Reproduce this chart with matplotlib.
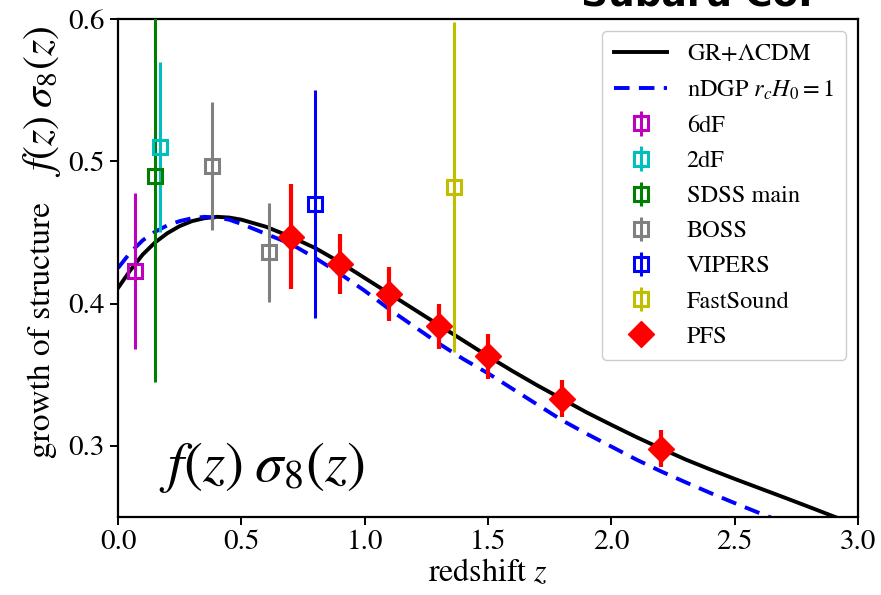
import numpy as np
import matplotlib
matplotlib.use("Agg")
import matplotlib.pyplot as plt

plt.rcParams["font.family"] = ["STIXGeneral", "DejaVu Serif"]
plt.rcParams["mathtext.fontset"] = "stix"

# ---- theory curves ----
z_gr = [0.0, 0.05, 0.1, 0.15, 0.2, 0.25, 0.3, 0.35, 0.4, 0.45, 0.5, 0.6, 0.7, 0.8, 0.9,
        1.0, 1.1, 1.2, 1.3, 1.4, 1.5, 1.6, 1.7, 1.8, 1.9, 2.0, 2.1, 2.2, 2.3, 2.4, 2.5,
        2.6, 2.7, 2.8, 2.9, 3.0]
fs8_gr = [0.411, 0.4235, 0.4345, 0.443, 0.4495, 0.4545, 0.458, 0.460, 0.461, 0.4605,
          0.459, 0.454, 0.447, 0.439, 0.429, 0.418, 0.407, 0.396, 0.385, 0.374, 0.363,
          0.3525, 0.3425, 0.333, 0.3235, 0.3148, 0.3063, 0.2983, 0.2905, 0.2835, 0.2768,
          0.2703, 0.2638, 0.2572, 0.2505, 0.244]

z_dgp = [0.0, 0.05, 0.1, 0.15, 0.2, 0.25, 0.3, 0.35, 0.4, 0.45, 0.5, 0.6, 0.7, 0.8, 0.9,
         1.0, 1.1, 1.2, 1.3, 1.4, 1.5, 1.6, 1.7, 1.8, 1.9, 2.0, 2.1, 2.2, 2.3, 2.4, 2.5,
         2.6, 2.7]
fs8_dgp = [0.425, 0.436, 0.4445, 0.4505, 0.455, 0.458, 0.460, 0.461, 0.4605, 0.459,
           0.456, 0.449, 0.442, 0.432, 0.421, 0.409, 0.396, 0.384, 0.372, 0.361, 0.351,
           0.340, 0.329, 0.318, 0.3085, 0.2995, 0.2905, 0.2822, 0.2745, 0.267, 0.2598,
           0.2528, 0.246]

# ---- measurements ----
surveys = ["6dF", "2dF", "SDSS main", "BOSS", "VIPERS", "FastSound"]
colors  = ["m", "c", "g", "gray", "b", "y"]
sv_z    = [[0.067], [0.17], [0.15], [0.38, 0.61], [0.80], [1.36]]
sv_val  = [[0.423], [0.510], [0.490], [0.497, 0.436], [0.470], [0.482]]
sv_err  = [[0.055], [0.060], [0.145], [0.045, 0.035], [0.080], [0.116]]

pfs_z   = [0.7, 0.9, 1.1, 1.3, 1.5, 1.8, 2.2]
pfs_val = [0.447, 0.428, 0.407, 0.384, 0.363, 0.333, 0.298]
pfs_err = [0.037, 0.021, 0.019, 0.016, 0.016, 0.013, 0.013]

fig = plt.figure(figsize=(8.81, 5.95), dpi=100)
ax = fig.add_axes([0.134, 0.131, 0.840, 0.837])

handles = []
h, = ax.plot(z_gr, fs8_gr, "k-", lw=2.8, label=r"GR+$\Lambda$CDM", zorder=2)
handles.append(h)
h, = ax.plot(z_dgp, fs8_dgp, "b--", lw=2.8, dashes=(4, 2.4), label=r"nDGP $r_cH_0=1$",
             zorder=2)
handles.append(h)

for name, c, zz, vv, ee in zip(surveys, colors, sv_z, sv_val, sv_err):
    h = ax.errorbar(zz, vv, yerr=ee, fmt="s", color=c, mfc="none", mec=c,
                    ms=9.5, mew=2.2, elinewidth=2.2, capsize=0, label=name, zorder=3)
    handles.append(h)

ax.errorbar(pfs_z, pfs_val, yerr=pfs_err, fmt="none", ecolor="r", elinewidth=3,
            capsize=0, zorder=4)
h, = ax.plot(pfs_z, pfs_val, "rD", ms=13, ls="none", label="PFS", zorder=5)
handles.append(h)

ax.set_xlim(0, 3.0)
ax.set_ylim(0.25, 0.6)
ax.set_xticks([0.0, 0.5, 1.0, 1.5, 2.0, 2.5, 3.0])
ax.set_yticks([0.3, 0.4, 0.5, 0.6])
ax.tick_params(labelsize=21, width=1.4, length=6)
for s in ax.spines.values():
    s.set_linewidth(1.6)

ax.set_xlabel(r"redshift $z$", fontsize=23, labelpad=2)
# y label: plain words plus a larger formula, stacked along the left side
ax.text(-0.103, 0.375, "growth of structure", transform=ax.transAxes, fontsize=24,
        rotation=90, ha="center", va="center")
ax.text(-0.103, 0.835, r"$f(z)\;\sigma_8(z)$", transform=ax.transAxes, fontsize=30,
        rotation=90, ha="center", va="center")

ax.text(0.055, 0.045, r"$f(z)\;\sigma_8(z)$", transform=ax.transAxes, fontsize=41,
        ha="left", va="bottom")

ax.legend(handles=handles, loc="upper right", fontsize=17.5, handlelength=2.2,
          labelspacing=0.54, borderpad=0.5, framealpha=1)

# cut-off banner text at the very top
fig.text(0.66, 1 - 6 / 595, "Subaru CoI", fontsize=27, fontweight="bold",
         family="DejaVu Sans", ha="left", va="baseline")

fig.savefig("out.png", dpi=100)
